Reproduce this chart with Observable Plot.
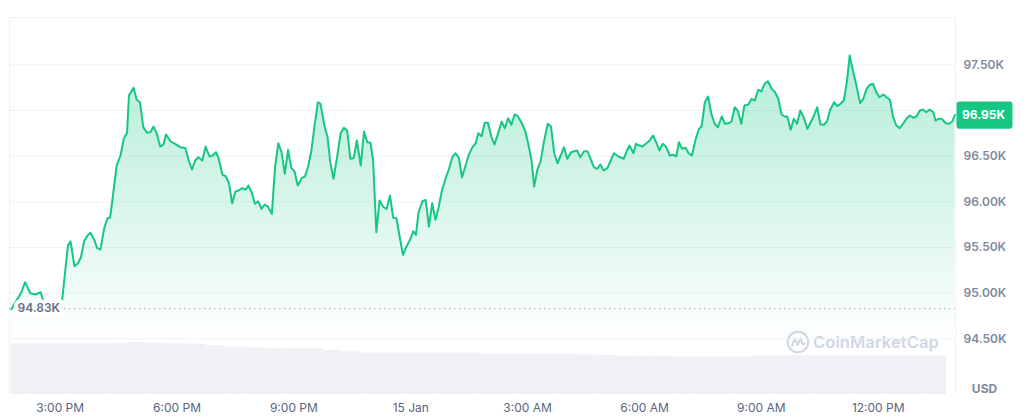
<!DOCTYPE html>
<html><head><meta charset="utf-8">
<script src="https://cdn.jsdelivr.net/npm/d3@7"></script>
<script src="https://cdn.jsdelivr.net/npm/@observablehq/plot@0.6"></script>
<style>
html,body{margin:0;padding:0;background:#fff;}
#chart{position:relative;width:1036px;height:419px;overflow:hidden;font-family:Inter,"Noto Sans",sans-serif;}
#chart > svg{position:absolute;left:0;top:0;}
#wm{position:absolute;left:786px;top:330px;display:flex;align-items:center;gap:3px;color:#cfd6e4;font-family:Inter,sans-serif;font-weight:600;font-size:16.5px;letter-spacing:0.1px;}
#wm svg{position:static;}
</style></head><body><div id="chart"></div>
<script>
// ---- data ----
// minutes after 14 Jan 13:45
const minutes = [
0,10,16,21,29,37,45,48,
57,66,73,
78,87,91,97,102,107,112,117,122,128,132,137,
143,148,152,157,162,168,173,178,181,188,
193,198,203,209,214,219,224,229,234,238,
245,252,260,268,273,278,283,288,294,299,
305,310,315,319,325,330,335,340,345,350,
355,361,365,370,375,380,385,390,395,401,
406,411,416,421,426,431,436,441,447,452,
457,462,467,472,476,482,487,491,496,502,
507,512,517,522,527,532,538,543,548,553,
557,562,567,573,578,583,588,593,598,603,
608,614,619,623,627,633,638,643,648,653,
658,663,669,674,679,684,689,694,699,704,
710,715,719,724,729,734,739,744,750,755,
760,765,770,775,780,786,791,796,801,805,
810,815,820,826,831,836,841,846,851,856,
862,867,871,876,882,887,892,897,902,907,
912,918,923,928,935,943,948,952,958,962,
967,972,978,983,988,993,998,1003,1008,1014,
1019,1024,1028,1033,1038,1043,1048,1054,1059,1063,
1068,1073,1078,1083,1088,1094,1099,1104,1109,1114,
1119,1124,1129,1135,1140,1145,1150,1155,1160,1165,
1171,1176,1181,1186,1191,1195,1200,1205,1210,1215,
1220,1226,1231,1236,1241,1246,1251,1256,1261,1267,
1272,1277,1282,1287,1291,1296,1302,1307,1312,1317,
1322,1327,1332,1337,1343,1348,1353,1358,1363,1368,
1373,1379,1384,1389,1394,1399,1404,1409,1414,1420,
1423,1428,1433,1439,1444,1449,1453];
// BTC price, USD
const prices = [
94825,94944,95021,95120,94999,94985,95010,94938,
94810,94788,94853,
94919,95521,95568,95295,95321,95393,95568,95631,95660,95576,95492,95478,
95715,95820,95828,96105,96397,96507,96690,96755,97164,97248,
97117,97090,96817,96755,96762,96824,96744,96605,96627,96737,
96663,96635,96598,96587,96452,96354,96452,96488,96452,96605,
96496,96507,96543,96477,96295,96280,96203,95984,96113,96124,
96149,96134,96178,96105,95978,96006,95923,95970,95948,95868,
96379,96641,96543,96306,96569,96372,96332,96178,96258,96277,
96386,96562,96843,97090,97073,96835,96701,96434,96252,96507,
96751,96810,96781,96471,96477,96671,96397,96770,96652,96646,
96452,95667,96014,95941,95923,96069,95825,95820,95612,95419,
95503,95587,95678,95638,95886,96006,96022,95729,95984,95803,
95941,96124,96263,96361,96488,96532,96482,96269,96386,96507,
96598,96641,96751,96718,96865,96865,96715,96627,96762,96879,
96806,96915,96843,96956,96937,96860,96781,96635,96452,96167,
96350,96444,96652,96854,96824,96532,96422,96507,96598,96471,
96543,96554,96562,96488,96554,96554,96471,96379,96361,96408,
96343,96372,96452,96532,96496,96471,96562,96616,96532,96635,
96616,96605,96641,96671,96726,96652,96562,96635,96605,96507,
96515,96499,96652,96580,96591,96532,96507,96690,96799,96824,
97090,97153,96963,96854,96817,96934,96854,96860,96879,97036,
96992,96854,97054,97065,97128,97109,97226,97208,97292,97320,
97237,97200,97128,96956,96934,96934,96788,96909,96854,97000,
96926,96799,96871,96945,97036,96846,96843,96879,97007,97090,
97047,97073,97109,97328,97602,97438,97255,97080,97128,97237,
97281,97292,97200,97145,97175,97145,97117,96926,96835,96806,
96854,96915,96945,96920,96934,97000,97010,96981,97010,96981,
96890,96909,96909,96860,96854,96879,96950];
// 24h volume per 30-minute slot (estimated, $B)
const volumes = [50.7,50.7,50.7,50.7,50.7,51.0,52.0,51.3,50.5,50.2,
48.8,47.3,46.6,45.6,46.0,45.6,44.0,42.5,41.3,41.3,
41.3,41.3,41.3,41.3,40.7,40.7,40.7,40.7,40.7,39.7,
39.0,38.3,38.3,38.2,37.3,37.3,37.3,37.3,38.7,38.7,
38.7,38.7,38.7,38.7,38.7,38.7,38.7,38.7];
const openPrice = 94830;
const openLabel = "94.83K";
const lastPrice = 96950;
const lastLabel = "96.95K";
// grid lines
const priceTicks = [94500,95000,95500,96000,96500,97000,97500];
// labelled ticks (97.00K is hidden behind the current-price badge)
const labelTicks = [94500,95000,95500,96000,96500,97500];
const labelTickTexts = ["94.50K","95.00K","95.50K","96.00K","96.50K","97.50K"];
const timeTicks = ["2025-01-14T15:00","2025-01-14T18:00","2025-01-14T21:00","2025-01-15T00:00",
  "2025-01-15T03:00","2025-01-15T06:00","2025-01-15T09:00","2025-01-15T12:00"];
const timeTickLabels = ["3:00 PM","6:00 PM","9:00 PM","15 Jan","3:00 AM","6:00 AM","9:00 AM","12:00 PM"];
const unitLabel = "USD";

// ---- build ----
const MIN = 60000;
const T0 = Date.UTC(2025,0,14,13,45);
const data = minutes.map((m,i)=>({t:new Date(T0+m*MIN), price:prices[i]}));
const xDomain = [new Date(T0-3*MIN), new Date(T0+1454*MIN)];
const yDomain = [93890, 98018];
const tickDates = timeTicks.map(s=>new Date(s+":00Z"));
const GREEN = "#16c784", GRID = "#eff2f5";

const common = {width:1036, height:419, marginLeft:9, marginRight:81, marginBottom:25};

const volPlot = Plot.plot({
  ...common, marginTop:314,
  x:{type:"utc", domain:xDomain, axis:null},
  y:{domain:[0,80], axis:null},
  style:{background:"transparent"},
  marks:[
    Plot.rect(volumes,{x1:(d,i)=>new Date(T0+i*30*MIN), x2:(d,i)=>new Date(T0+(i+1)*30*MIN),
      y1:0, y2:d=>d, fill:"#eff1f5"})
  ]
});

const defsMark = () => {
  const ns = "http://www.w3.org/2000/svg";
  const defs = document.createElementNS(ns,"defs");
  const g = document.createElementNS(ns,"linearGradient");
  g.setAttribute("id","cmcArea"); g.setAttribute("x1","0"); g.setAttribute("y1","0");
  g.setAttribute("x2","0"); g.setAttribute("y2","1");
  [[0,0.32],[0.45,0.16],[0.85,0.0],[1,0]].forEach(([o,a])=>{
    const s = document.createElementNS(ns,"stop");
    s.setAttribute("offset",o); s.setAttribute("stop-color",GREEN); s.setAttribute("stop-opacity",a);
    g.appendChild(s);
  });
  defs.appendChild(g);
  return defs;
};

const badgeSymbol = {draw(ctx){
  const w=28, h=13.6, r=3;
  ctx.moveTo(-w+r,-h); ctx.lineTo(w-r,-h); ctx.arcTo(w,-h,w,-h+r,r);
  ctx.lineTo(w,h-r); ctx.arcTo(w,h,w-r,h,r); ctx.lineTo(-w+r,h);
  ctx.arcTo(-w,h,-w,h-r,r); ctx.lineTo(-w,-h+r); ctx.arcTo(-w,-h,-w+r,-h,r); ctx.closePath();
}};

const mainPlot = Plot.plot({
  ...common, marginTop:17,
  x:{type:"utc", domain:xDomain, axis:null},
  y:{domain:yDomain, axis:null},
  style:{background:"transparent", fontFamily:"Inter, 'Noto Sans', sans-serif", overflow:"visible"},
  marks:[
    defsMark,
    Plot.ruleY(priceTicks,{stroke:GRID}),
    Plot.ruleY([yDomain[1]],{stroke:GRID}),
    Plot.ruleX(xDomain,{stroke:GRID}),
    Plot.areaY(data,{x:"t", y1:yDomain[0], y2:"price", fill:"url(#cmcArea)"}),
    Plot.ruleY([openPrice],{stroke:"#9aa3b5", strokeDasharray:"1.5,3.5", strokeWidth:1}),
    Plot.lineY(data,{x:"t", y:"price", stroke:GREEN, strokeWidth:2, strokeLinejoin:"round"}),
    Plot.text([openPrice],{y:d=>d, text:()=>openLabel, frameAnchor:"left", dx:8, textAnchor:"start",
      fill:"#616e85", fontSize:12, fontWeight:600, stroke:"white", strokeWidth:8, strokeLinejoin:"round"}),
    Plot.text(labelTicks,{y:d=>d, text:(d,i)=>labelTickTexts[i], frameAnchor:"right", dx:8,
      textAnchor:"start", fill:"#808a9d", fontSize:12, fontWeight:600}),
    Plot.text(tickDates,{x:d=>d, text:(d,i)=>timeTickLabels[i], frameAnchor:"bottom", dy:17,
      fill:"#58667e", fontSize:12}),
    Plot.text([unitLabel],{frameAnchor:"bottom-right", dx:29, dy:-2, textAnchor:"middle",
      fill:"#808a9d", fontSize:12, fontWeight:700}),
    Plot.dot([lastPrice],{y:d=>d, frameAnchor:"right", dx:29, symbol:badgeSymbol, fill:GREEN, stroke:"none", r:5}),
    Plot.text([lastPrice],{y:d=>d, text:()=>lastLabel, frameAnchor:"right", dx:28, textAnchor:"middle",
      fill:"white", fontSize:12, fontWeight:700})
  ]
});

const chart = document.getElementById("chart");
chart.appendChild(volPlot);
const wm = document.createElement("div");
wm.id = "wm";
wm.innerHTML = '<svg width="24" height="24" viewBox="-12 -12 24 24"><circle r="10.3" fill="none" stroke="#cfd6e4" stroke-width="2"/>' +
  '<path d="M-6,4 L-3.2,-3.6 L-0.4,3 L2.6,-3.6 L4.2,1.2 Q5,3 6.6,1.6" fill="none" stroke="#cfd6e4" stroke-width="2" stroke-linejoin="round" stroke-linecap="round"/></svg>' +
  '<span>CoinMarketCap</span>';
chart.appendChild(wm);
chart.appendChild(mainPlot);
</script></body></html>
